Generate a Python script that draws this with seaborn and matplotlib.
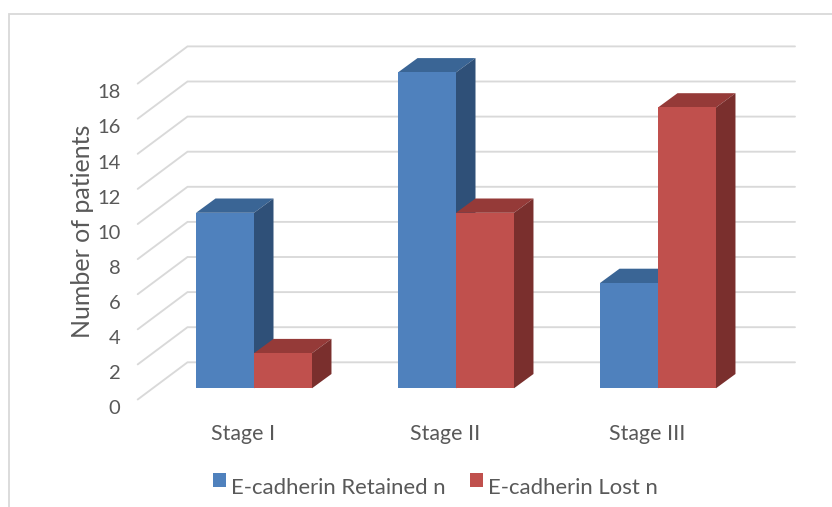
import matplotlib
matplotlib.use("Agg")
import matplotlib.pyplot as plt
import matplotlib.transforms as mtrans
from matplotlib.lines import Line2D
from matplotlib.patches import Polygon
import pandas as pd
import seaborn as sns

stages = ["Stage I", "Stage II", "Stage III"]
retained = [10, 18, 6]
lost = [2, 10, 16]
series_names = ["E-cadherin Retained n", "E-cadherin Lost n"]
y_ticks = list(range(0, 20, 2))

W, H, DPI = 832, 507, 100
TEXT = "#595959"
GRID = "#D9D9D9"
FRONT = ["#4F81BD", "#C0504D"]
TOP = ["#3A6595", "#953A38"]
SIDE = ["#2F5078", "#7A2F2D"]

sns.set_theme(style="white")
plt.rcParams["font.family"] = ["Lato", "DejaVu Sans"]

df = pd.DataFrame({
    "stage": stages * 2,
    "series": [series_names[0]] * 3 + [series_names[1]] * 3,
    "patients": retained + lost,
})

fig = plt.figure(figsize=(W / DPI, H / DPI), dpi=DPI, facecolor="white")

# Plot plane of the bar fronts, in pixels from the top-left corner
px_left, px_right, px_floor = 153.0, 759.0, 388.3
px_per_unit = 17.55
ax = fig.add_axes([
    px_left / W,
    1 - px_floor / H,
    (px_right - px_left) / W,
    18 * px_per_unit / H,
])

sns.barplot(
    data=df, x="stage", y="patients", hue="series",
    order=stages, hue_order=series_names, palette=FRONT,
    width=0.574, saturation=1, ax=ax, legend=True, linewidth=0,
)
ax.set_xlim(-0.5, 2.5)
ax.set_ylim(0, 18)
ax.patch.set_alpha(0)
sns.despine(ax=ax, left=True, bottom=True)

px_x = (px_right - px_left) / 3


def dx(pixels):
    return pixels / px_x


def dy(pixels):
    return pixels / px_per_unit


# Receding floor and wall gridlines
for v in y_ticks:
    back_y = v + dy(26)
    front_y = v - dy(11.2)
    back_x0 = -0.5 + dx(187.5 - px_left)
    front_x0 = -0.5 + dx(137.7 - px_left)
    back_x1 = -0.5 + dx(795 - px_left)
    ax.plot([front_x0, back_x0, back_x1], [front_y, back_y, back_y],
            color=GRID, lw=1.35, clip_on=False, zorder=0.5,
            solid_joinstyle="miter")

# Top and side faces give each bar its depth
depth_x, depth_y = dx(19.5), dy(14.3)
n_stages = len(stages)
bars = [p for p in ax.patches if p.get_height() > 0][:2 * n_stages]
for i, bar in enumerate(bars):
    hue = i // n_stages
    x0, x1 = bar.get_x(), bar.get_x() + bar.get_width()
    h = bar.get_height()
    bar.set_zorder(2.5 + hue)
    ax.add_patch(Polygon(
        [(x0, h), (x0 + depth_x, h + depth_y), (x1 + depth_x, h + depth_y), (x1, h)],
        closed=True, facecolor=TOP[hue], edgecolor="none", clip_on=False, zorder=2 + hue,
    ))
    ax.add_patch(Polygon(
        [(x1, 0), (x1 + depth_x, depth_y), (x1 + depth_x, h + depth_y), (x1, h)],
        closed=True, facecolor=SIDE[hue], edgecolor="none", clip_on=False, zorder=2 + hue,
    ))

# Tick labels sit on the front edge of the floor
ax.set_yticks(y_ticks)
ax.set_yticklabels([str(v) for v in y_ticks])
ax.tick_params(axis="y", length=0, pad=23.5, labelsize=14.5, labelcolor=TEXT)
ax.tick_params(axis="x", length=0, pad=26, labelsize=15.4, labelcolor=TEXT)
y_shift = mtrans.ScaledTranslation(0, -19 / DPI, fig.dpi_scale_trans)
for lab in ax.get_yticklabels():
    lab.set_transform(lab.get_transform() + y_shift)
x_shift = mtrans.ScaledTranslation(-11 / DPI, 0, fig.dpi_scale_trans)
for lab in ax.get_xticklabels():
    lab.set_transform(lab.get_transform() + x_shift)

ax.set_xlabel("")
ax.set_ylabel("")
fig.text(83 / W, 1 - 231 / H, "Number of patients", rotation=90, ha="center",
         va="center", fontsize=18, color=TEXT)

handles, labels = ax.get_legend_handles_labels()
leg = ax.legend(
    handles, labels, ncol=2, frameon=False, fontsize=15.9, labelcolor=TEXT,
    loc="center", bbox_to_anchor=(435.5 / W, 1 - 487.5 / H),
    bbox_transform=fig.transFigure, handlelength=0.58, handleheight=0.58,
    handletextpad=0.23, columnspacing=1.12, borderpad=0,
)
# Swatches ride a little above the text baseline
for swatch in leg.legend_handles:
    swatch.set_y(swatch.get_y() + 4.3)

# Chart frame, open on the right and at the bottom
fig.add_artist(Line2D([8.5 / W, 8.5 / W, 1], [0, 1 - 14 / H, 1 - 14 / H],
                      color=GRID, lw=1.3, solid_joinstyle="miter"))

fig.savefig("out.png", dpi=DPI, facecolor="white")
